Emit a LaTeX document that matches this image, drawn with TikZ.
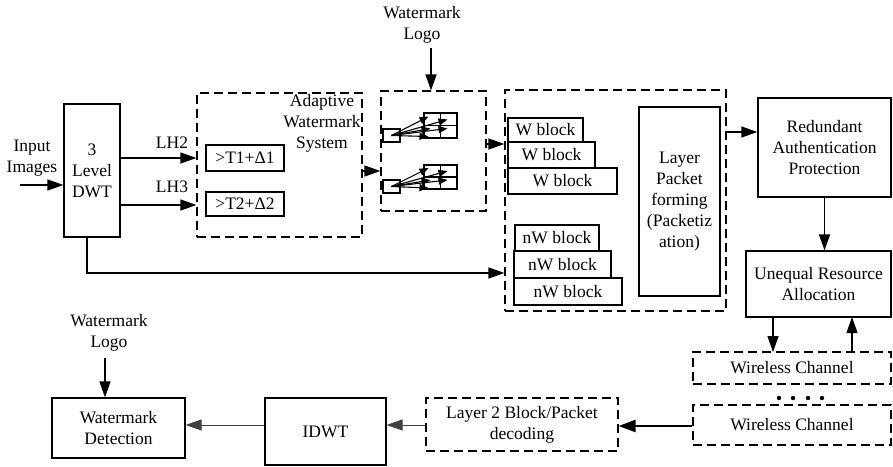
\documentclass[tikz,border=0pt]{standalone}
\usepackage{fontspec}
\setmainfont{Liberation Serif}
\usetikzlibrary{arrows.meta,calc}
\newcommand{\myfs}{\fontsize{17.5}{21}\selectfont}
\tikzset{
  box/.style={draw, line width=1.2pt, inner sep=0pt, align=center, font=\myfs},
  dbox/.style={box, dash pattern=on 9pt off 5pt},
  lbl/.style={inner sep=0pt, align=center, font=\myfs},
  arr/.style={-{Triangle[length=16pt,width=11pt]}, line width=1.3pt},
  thinarr/.style={-{Triangle[length=16pt,width=11pt]}, line width=1pt, draw=black!75, fill=black},
  tinyarr/.style={-{Triangle[length=9pt,width=7pt]}, line width=1.1pt},
  cell/.style={draw, line width=1.2pt, inner sep=0pt}
}
\begin{document}
\begin{tikzpicture}[x=1pt,y=-1pt]
\useasboundingbox (0,0) rectangle (893,466);

% --- top row ---
\node[lbl] (inp) at (32,158) {Input\\Images};
\coordinate (inS) at (20,185);
\node[box, minimum width=56pt, minimum height=133pt] (dwt) at (92,170.5) {3\\Level\\DWT};
\draw[arr] (inS) -- (dwt.west |- inS);

\node[dbox, minimum width=165pt, minimum height=144pt] (ada) at (279.5,165) {};
\node[lbl] (adat) at (322,123) {Adaptive\\Watermark\\System};
\node[box, minimum width=78pt, minimum height=26pt] (t1) at (245,158) {>T1+Δ1};
\node[box, minimum width=78pt, minimum height=24pt] (t2) at (245,204) {>T2+Δ2};

\coordinate (lh2s) at (120,158);
\coordinate (lh3s) at (120,205);
\draw[arr] (lh2s) -- (ada.west |- lh2s);
\draw[arr] (lh3s) -- (ada.west |- lh3s);
\node[lbl] (lh2) at (172,143) {LH2};
\node[lbl] (lh3) at (172,187) {LH3};

\node[dbox, minimum width=105pt, minimum height=120pt] (emb) at (433.5,151) {};
\node[lbl] (logo1) at (422,25) {Watermark\\Logo};
\coordinate (logo1s) at (431,48);
\draw[arr] (logo1s) -- (logo1s |- emb.north);
\coordinate (ae) at (362,171);
\draw[arr] (ae) -- (emb.west |- ae);

% embedding detail
\node[cell, minimum width=17pt, minimum height=13pt] (sb1) at (391.5,135.5) {};
\node[cell, minimum width=33pt, minimum height=25pt] (g1) at (440.5,125.5) {};
\draw[line width=1.2pt] (g1.north) -- (g1.south) (g1.west) -- (g1.east);
\node[cell, minimum width=17pt, minimum height=13pt] (sb2) at (391.5,186.5) {};
\node[cell, minimum width=33pt, minimum height=24pt] (g2) at (440.5,177) {};
\draw[line width=1.2pt] (g2.north) -- (g2.south) (g2.west) -- (g2.east);
\foreach \s/\g in {sb1/g1, sb2/g2} {
  \draw[tinyarr] (\s.center) -- ($(\g.center)+(-12,-9)$);
  \draw[tinyarr] (\s.center) -- ($(\g.center)+(7,-6)$);
  \draw[tinyarr] (\s.center) -- ($(\g.center)+(7,3)$);
  \draw[tinyarr] (\s.center) -- ($(\g.center)+(-10,3)$);
  \draw[tinyarr] (\s.center) -- ($(\g.center)+(-12,11)$);
}

% block area
\node[dbox, minimum width=221pt, minimum height=221pt] (blk) at (615.5,200.5) {};
\coordinate (eb) at (486,144);
\draw[arr] (eb) -- (blk.west |- eb);
\node[box, minimum width=75pt, minimum height=24pt] (w1) at (545.5,130) {W block};
\node[box, minimum width=87pt, minimum height=26pt] (w2) at (551.5,155) {W block};
\node[box, minimum width=109pt, minimum height=26pt] (w3) at (562.5,181) {W block};
\node[box, minimum width=84pt, minimum height=26pt] (nw1) at (557,238) {nW block};
\node[box, minimum width=97pt, minimum height=27pt] (nw2) at (562.5,264.5) {nW block};
\node[box, minimum width=108pt, minimum height=27pt] (nw3) at (568,291.5) {nW block};
\node[box, minimum width=81pt, minimum height=189pt] (lpf) at (679.5,201.5) {Layer\\Packet\\forming\\(Packetiz\\ation)};

\coordinate (dwtb) at (87,237);
\draw[arr] (dwtb) -- (87,273) -- (blk.west |- 0,273);

% right column
\node[box, minimum width=133pt, minimum height=99pt] (red) at (824.5,147.5) {Redundant\\Authentication\\Protection};
\coordinate (br) at (726,132);
\draw[arr] (br) -- (red.west |- br);
\node[box, minimum width=145pt, minimum height=66pt] (ueq) at (818.5,284) {Unequal Resource\\Allocation};
\draw[arr] (red.south) -- (red.south |- ueq.north);

\node[dbox, minimum width=198pt, minimum height=32pt] (wc1) at (792,368) {Wireless Channel};
\node[dbox, minimum width=198pt, minimum height=40pt] (wc2) at (792,425) {Wireless Channel};
\draw[arr] (773,317) -- (773,352);
\draw[arr] (852,352) -- (852,317);
\foreach \i/\x in {1/779,2/793,3/808,4/822} \fill (\x,398) circle (2.2pt);

% bottom row
\node[dbox, minimum width=192pt, minimum height=53pt] (l2) at (522,424.5) {Layer 2 Block/Packet\\decoding};
\draw[-{Triangle[length=17pt,width=12pt]}, line width=2.4pt] (wc2.west |- 0,426) -- (l2.east |- 0,426);
\node[box, minimum width=121pt, minimum height=67pt] (idwt) at (325.5,431.5) {IDWT};
\node[box, minimum width=133pt, minimum height=60pt] (wd) at (118.5,428) {Watermark\\Detection};
\draw[thinarr] (l2.west |- 0,425) -- (idwt.east |- 0,425);
\draw[thinarr] (idwt.west |- 0,425) -- (wd.east |- 0,425);
\node[lbl] (logo2) at (109,332.5) {Watermark\\Logo};
\coordinate (logo2s) at (105,358);
\draw[arr] (logo2s) -- (logo2s |- wd.north);
\end{tikzpicture}
\end{document}
